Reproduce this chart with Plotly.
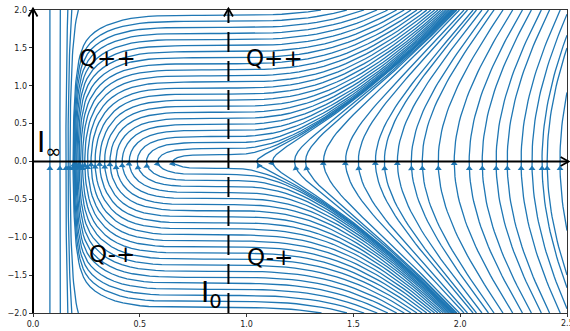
import math
import numpy as np
import plotly.graph_objects as go

# axes and ticks
x_range = [0.0, 2.5]
y_range = [-2.0, 2.0]
x_ticks = [0.0, 0.5, 1.0, 1.5, 2.0, 2.5]
y_ticks = [-2.0, -1.5, -1.0, -0.5, 0.0, 0.5, 1.0, 1.5, 2.0]

# flow field:  dx/dt = y ,  dy/dt = g(x)
i0 = 0.915                    # I0 point on the x axis
c_left, p_left = 9.0, 5.2     # shape of the flow left of I0
k_right = 3.4                 # shape of the flow right of I0
wall_amp, wall_len = 23400.0, 0.02   # steep wall near I_inf (x -> 0)

# streamlines
seed_x_axis_left = [0.079, 0.126, 0.154, 0.164, 0.173]          # cross y=0, leave through the top
seed_y_at_i0 = [0.09, 0.17, 0.25, 0.33, 0.41, 0.49, 0.57, 0.65, 0.73, 0.81, 0.89,
                0.97, 1.05, 1.13, 1.21, 1.29, 1.37, 1.45, 1.53, 1.61, 1.69, 1.77,
                1.85, 1.93]                                     # height where lines cross I0
seed_x_axis_right = [1.047, 1.121, 1.224, 1.276, 1.36, 1.463, 1.523, 1.603, 1.645,
                     1.706, 1.771, 1.822, 1.897, 1.972, 2.042, 2.103, 2.168, 2.22,
                     2.285, 2.336, 2.383, 2.407, 2.467]

region_labels = ['Q++', 'Q++', 'Q-+', 'Q-+']
line_color = '#1f77b4'


def g(x):
    if x < i0:
        return 0.5 * (c_left * p_left * (i0 - x) ** (p_left - 1)
                      + wall_amp / wall_len * math.exp(-x / wall_len))
    return 1.5 * k_right * (x - i0) ** 2


#%% integrate streamlines (rk12 as in matplotlib, unbroken lines)
W = x_range[1] - x_range[0]
H = y_range[1] - y_range[0]
maxds = 1.0 / 60
maxerror = 0.003
maxlength = 4.0


class OutOfBounds(Exception):
    pass


class Terminate(Exception):
    pass


def direction(X, Y, sgn):
    if X < 0 or X > 1 or Y < 0 or Y > 1:
        raise OutOfBounds
    x = x_range[0] + X * W
    y = y_range[0] + Y * H
    u = y / W
    v = g(x) / H
    sp = math.hypot(u, v)
    if sp < 1e-14:
        raise Terminate
    return sgn * u / sp, sgn * v / sp


def euler(pts, sgn):
    X, Y = pts[-1]
    try:
        cx, cy = direction(X, Y, sgn)
    except (Terminate, OutOfBounds):
        return 0.0
    dsx = math.inf if cx == 0 else (X / -cx if cx < 0 else (1 - X) / cx)
    dsy = math.inf if cy == 0 else (Y / -cy if cy < 0 else (1 - Y) / cy)
    d = min(dsx, dsy)
    pts.append((X + cx * d, Y + cy * d))
    return d


def trace(X0, Y0, sgn):
    ds = maxds
    total = 0.0
    pts = []
    X, Y = X0, Y0
    while True:
        try:
            if 0 <= X <= 1 and 0 <= Y <= 1:
                pts.append((X, Y))
            else:
                raise OutOfBounds
            k1x, k1y = direction(X, Y, sgn)
            k2x, k2y = direction(X + ds * k1x, Y + ds * k1y, sgn)
        except OutOfBounds:
            if pts:
                total += euler(pts, sgn)
            break
        except Terminate:
            break
        dx1, dy1 = ds * k1x, ds * k1y
        dx2, dy2 = ds * 0.5 * (k1x + k2x), ds * 0.5 * (k1y + k2y)
        err = math.hypot(dx2 - dx1, dy2 - dy1)
        if err < maxerror:
            X += dx2
            Y += dy2
            if total + ds > maxlength:
                break
            total += ds
        ds = maxds if err == 0 else min(maxds, 0.85 * ds * (maxerror / err) ** 0.5)
    return pts


seeds = ([(x, 0.0) for x in seed_x_axis_left]
         + [(i0, y) for y in seed_y_at_i0]
         + [(x, 0.0) for x in seed_x_axis_right])

streams = []
for sx, sy in seeds:
    X0 = (sx - x_range[0]) / W
    Y0 = (sy - y_range[0]) / H
    back = trace(X0, Y0, -1)
    fwd = trace(X0, Y0, 1)
    streams.append(back[::-1] + fwd[1:])

#%% build traces
px_x = 535 / W
px_y = 305 / H
lx, ly = [], []
ax_, ay_, ang = [], [], []
for s in streams:
    a = np.array(s)
    tx = x_range[0] + a[:, 0] * W
    ty = y_range[0] + a[:, 1] * H
    keep = np.r_[True, (np.diff(tx) != 0) | (np.diff(ty) != 0)]
    tx, ty = tx[keep], ty[keep]
    lx += list(tx) + [None]
    ly += list(ty) + [None]
    if len(tx) < 2:
        continue
    sl = np.cumsum(np.hypot(np.diff(tx), np.diff(ty)))
    n = min(np.searchsorted(sl, sl[-1] / 2.0), len(tx) - 2)
    dxp = (tx[n + 1] - tx[n]) * px_x
    dyp = (ty[n + 1] - ty[n]) * px_y
    norm = math.hypot(dxp, dyp)
    # triangle centre sits a little behind the arrow tip
    ax_.append(tx[n] - 2.0 * dxp / norm / px_x)
    ay_.append(ty[n] - 2.0 * dyp / norm / px_y)
    ang.append(math.degrees(math.atan2(dxp, dyp)))

lines = go.Scatter(x=lx, y=ly, mode='lines', line=dict(color=line_color, width=1.3),
                   hoverinfo='skip')
arrows = go.Scatter(x=ax_, y=ay_, mode='markers', hoverinfo='skip',
                    marker=dict(symbol='triangle-up', size=6, angle=ang,
                                color=line_color, line=dict(width=0)))

#%% axis arrows (paper coordinates)
x_i0 = (i0 - x_range[0]) / W
y_0 = (0 - y_range[0]) / H
aw, ah = 4.5 / 535, 8 / 305
top = 1.005
shapes = [
    dict(type='line', xref='paper', yref='paper', x0=0, y0=0, x1=0, y1=top,
         line=dict(color='black', width=2)),
    dict(type='path', xref='paper', yref='paper',
         path=f'M {-aw},{top - ah} L 0,{top} L {aw},{top - ah}',
         line=dict(color='black', width=1.8)),
    dict(type='line', xref='paper', yref='paper', x0=0, y0=y_0, x1=1.003, y1=y_0,
         line=dict(color='black', width=2)),
    dict(type='path', xref='paper', yref='paper',
         path=f'M {1.003 - 8 / 535},{y_0 + 4.5 / 305} L 1.003,{y_0} L {1.003 - 8 / 535},{y_0 - 4.5 / 305}',
         line=dict(color='black', width=1.8)),
    dict(type='line', xref='paper', yref='paper', x0=x_i0, y0=0, x1=x_i0, y1=top,
         line=dict(color='black', width=2, dash='20px,9px')),
    dict(type='path', xref='paper', yref='paper',
         path=f'M {x_i0 - aw},{top - ah} L {x_i0},{top} L {x_i0 + aw},{top - ah}',
         line=dict(color='black', width=1.8)),
]

tickfont = dict(family='DejaVu Sans', size=8, color='#222')
big = dict(family='DejaVu Sans', size=23, color='black')
annotations = [
    dict(x=0.35, y=1.37, text=region_labels[0], showarrow=False, font=big),
    dict(x=1.13, y=1.37, text=region_labels[1], showarrow=False, font=big),
    dict(x=0.37, y=-1.22, text=region_labels[2], showarrow=False, font=big),
    dict(x=1.11, y=-1.26, text=region_labels[3], showarrow=False, font=big),
    dict(x=0.075, y=0.22, text='I<sub>∞</sub>', showarrow=False,
         font=dict(family='DejaVu Sans', size=28, color='black')),
    dict(x=0.835, y=-1.75, text='I<sub>0</sub>', showarrow=False,
         font=dict(family='DejaVu Sans', size=28, color='black')),
    # last x tick label, cut by the page edge as in the original
    dict(x=x_ticks[-1], y=0, yref='paper', yanchor='top', yshift=-4,
         text=f'{x_ticks[-1]:.1f}', showarrow=False, font=tickfont),
]

axis_style = dict(ticks='outside', ticklen=3.5, tickwidth=0.8, tickcolor='#333',
                  showline=True, linecolor='#333', linewidth=0.8, mirror=True,
                  showgrid=False, zeroline=False, tickfont=tickfont)

layout = go.Layout(
    width=570, height=331,
    margin=dict(l=33, r=2, t=10, b=16),
    plot_bgcolor='white', paper_bgcolor='white',
    showlegend=False,
    hovermode=False,
    xaxis=dict(range=x_range, tickvals=x_ticks,
               ticktext=[f'{v:.1f}' for v in x_ticks[:-1]] + [''], **axis_style),
    yaxis=dict(range=y_range, tickvals=y_ticks,
               ticktext=[f'{v:.1f}'.replace('-', '−') for v in y_ticks], **axis_style),
    shapes=shapes,
    annotations=annotations,
)

fig = go.Figure(data=[lines, arrows], layout=layout)
fig.write_html("out.html", config={'displayModeBar': False},
               post_script="document.body.style.margin='0px';")
